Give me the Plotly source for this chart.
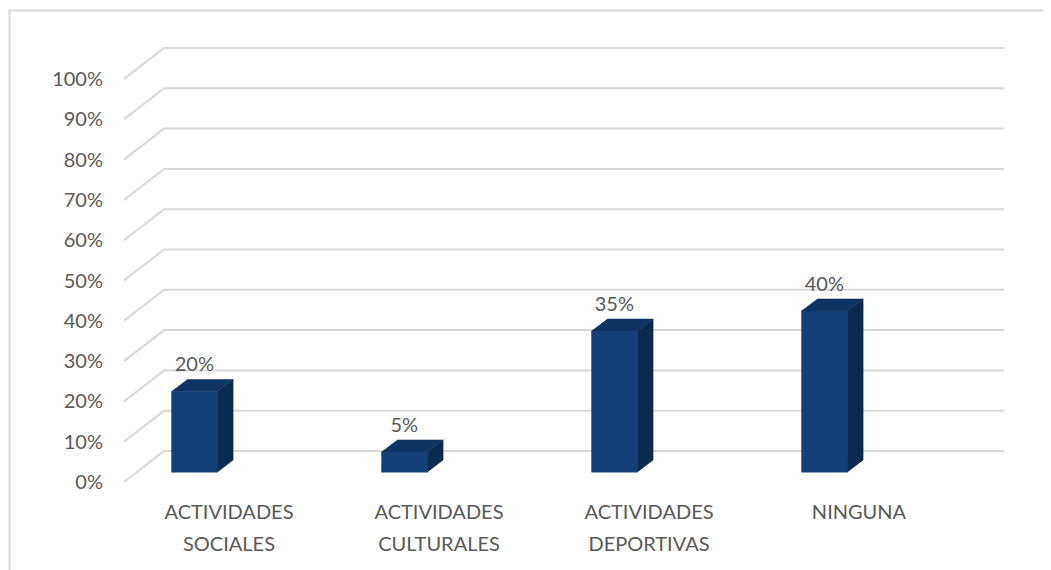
import plotly.graph_objects as go

categories_line1 = ["ACTIVIDADES", "ACTIVIDADES", "ACTIVIDADES", "NINGUNA"]
categories_line2 = ["SOCIALES", "CULTURALES", "DEPORTIVAS", ""]
values = [20, 5, 35, 40]
tick_values = [0, 10, 20, 30, 40, 50, 60, 70, 80, 90, 100]
tick_labels = [f"{v}%" for v in tick_values]

# geometry / style (in axis units)
X_LEFT = -0.5
X_RIGHT = 3.719
BACK_RIGHT = 3.690
DEPTH_DX = 0.1905
DEPTH_DY = 7.69
BAR_SHIFT = -0.165
BAR_W = 0.217
BAR_BASE = 2.45
BAR_DX = 0.076
BAR_DY = 2.98
LABEL_OFF = 6.3

FRONT = "#124179"
TOP = "#0E3463"
SIDE = "#0B2A4F"
GRID = "#D9D9D9"
TEXT = "#595959"
FONT = "Lato"

fig = go.Figure()

# 3D gridlines (floor diagonal + back wall)
for v in tick_values:
    fig.add_trace(go.Scatter(
        x=[X_LEFT, X_LEFT + DEPTH_DX, BACK_RIGHT],
        y=[v, v + DEPTH_DY, v + DEPTH_DY],
        mode="lines", line=dict(color=GRID, width=2),
        hoverinfo="skip", showlegend=False, cliponaxis=False))

xs = [i + BAR_SHIFT for i in range(len(values))]

for xc, v in zip(xs, values):
    x0 = xc - BAR_W / 2
    x1 = xc + BAR_W / 2
    # side face
    fig.add_trace(go.Scatter(
        x=[x1, x1, x1 + BAR_DX, x1 + BAR_DX, x1],
        y=[BAR_BASE, BAR_BASE + v, BAR_BASE + v + BAR_DY, BAR_BASE + BAR_DY, BAR_BASE],
        mode="lines", fill="toself", fillcolor=SIDE, line=dict(color=SIDE, width=0.5),
        hoverinfo="skip", showlegend=False))
    # top face
    fig.add_trace(go.Scatter(
        x=[x0, x1, x1 + BAR_DX, x0 + BAR_DX, x0],
        y=[BAR_BASE + v, BAR_BASE + v, BAR_BASE + v + BAR_DY, BAR_BASE + v + BAR_DY, BAR_BASE + v],
        mode="lines", fill="toself", fillcolor=TOP, line=dict(color=TOP, width=0.5),
        hoverinfo="skip", showlegend=False))
    # front face
    fig.add_trace(go.Scatter(
        x=[x0, x1, x1, x0, x0],
        y=[BAR_BASE, BAR_BASE, BAR_BASE + v, BAR_BASE + v, BAR_BASE],
        mode="lines", fill="toself", fillcolor=FRONT, line=dict(color=FRONT, width=0.5),
        hoverinfo="skip", showlegend=False))

# data labels
fig.add_trace(go.Scatter(
    x=xs, y=[BAR_BASE + v + LABEL_OFF for v in values],
    mode="text", text=[f"{v}%" for v in values], textposition="middle center",
    textfont=dict(family=FONT, size=20, color=TEXT),
    hoverinfo="skip", showlegend=False, cliponaxis=False))

# invisible trace for the second category-label axis
fig.add_trace(go.Scatter(x=[0], y=[0], xaxis="x2", mode="markers",
                         marker=dict(opacity=0), hoverinfo="skip", showlegend=False))

OFF = 8  # page body margin
L, R, T, B = 124 - OFF, 1010 - OFF, 30 - OFF, 490 - OFF
W, H = 1051 - OFF, 570 - OFF


def px(x):
    return (x - OFF - L) / (R - L)


def py(y):
    return (B - (y - OFF)) / (B - T)


fig.add_shape(type="rect", xref="paper", yref="paper",
              x0=px(9.5), x1=px(1080), y0=py(10.5), y1=py(610),
              line=dict(color=GRID, width=2), layer="below")

axis_common = dict(range=[X_LEFT, X_RIGHT], tickvals=list(range(len(values))),
                   showgrid=False, zeroline=False, showline=False, ticks="",
                   tickfont=dict(family=FONT, size=20, color=TEXT), fixedrange=True)

fig.update_layout(
    width=W, height=H,
    margin=dict(l=L, r=W - R, t=T, b=H - B),
    paper_bgcolor="white", plot_bgcolor="white",
    font=dict(family=FONT, color=TEXT, size=20),
    xaxis=dict(**axis_common, ticktext=categories_line1, ticklabelstandoff=8),
    xaxis2=dict(**axis_common, ticktext=categories_line2, ticklabelstandoff=40,
                overlaying="x", anchor="y", side="bottom"),
    yaxis=dict(range=[-1.985, 112.16], tickvals=tick_values, ticktext=tick_labels,
               showgrid=False, zeroline=False, showline=False, ticks="",
               tickfont=dict(family=FONT, size=20, color=TEXT),
               ticklabelstandoff=20, fixedrange=True),
)

fig.write_html("out.html")
